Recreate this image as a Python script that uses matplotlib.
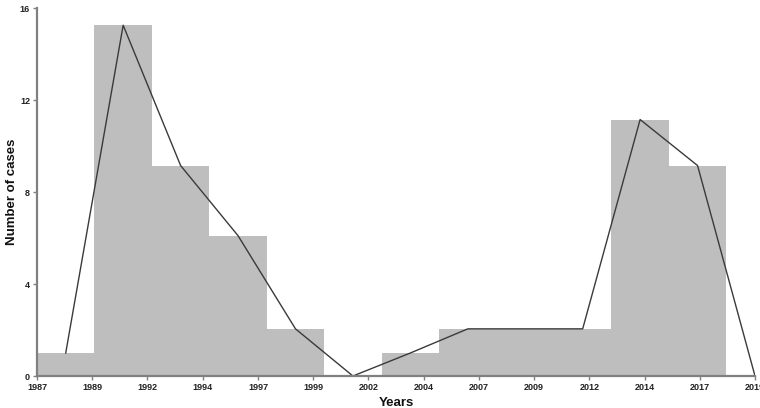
import matplotlib
matplotlib.use("Agg")
import matplotlib.pyplot as plt

# Histogram bin edges (years) and counts per bin
bin_edges = [1987.00, 1989.56, 1992.12, 1994.68, 1997.24, 1999.80, 2002.36,
             2004.92, 2007.48, 2010.04, 2012.60, 2015.16, 2017.72]
counts = [1, 15.25, 9.15, 6.1, 2.05, 0, 1, 2.05, 2.05, 2.05, 11.15, 9.15]

# Frequency polygon (bin midpoints, values)
poly_years = [1988.28, 1990.84, 1993.40, 1995.96, 1998.52, 2001.08, 2003.64,
              2006.20, 2008.76, 2011.32, 2013.88, 2016.44, 2019.00]
poly_values = [1, 15.25, 9.15, 6.1, 2.05, 0, 1, 2.05, 2.05, 2.05, 11.15, 9.15, 0]

xtick_pos = [1987.00, 1989.46, 1991.92, 1994.38, 1996.85, 1999.31, 2001.77,
             2004.23, 2006.69, 2009.15, 2011.62, 2014.08, 2016.54, 2019.00]
xtick_labels = ["1987", "1989", "1992", "1994", "1997", "1999", "2002",
                "2004", "2007", "2009", "2012", "2014", "2017", "2019"]
ytick_pos = [0, 4, 8, 12, 16]

font = ["Liberation Sans Narrow", "Liberation Sans", "DejaVu Sans"]

fig = plt.figure(figsize=(7.6, 4.08), dpi=100)
ax = fig.add_axes([37 / 760, 32 / 408, (755 - 37) / 760, (376 - 8) / 408])

widths = [bin_edges[i + 1] - bin_edges[i] for i in range(len(bin_edges) - 1)]
ax.bar(bin_edges[:-1], counts, width=widths, align="edge",
       color="#bebebe", edgecolor="none", linewidth=0)
ax.plot(poly_years, poly_values, color="#3a3a3a", linewidth=1.0)

ax.set_xlim(1987, 2019)
ax.set_ylim(0, 16)
ax.set_xticks(xtick_pos)
ax.set_xticklabels(xtick_labels, family=font, fontsize=6.5, fontweight="bold",
                   color="#222222")
ax.set_yticks(ytick_pos)
ax.set_yticklabels([str(v) for v in ytick_pos], family=font, fontsize=6.5,
                   fontweight="bold", color="#222222")

for s in ["top", "right"]:
    ax.spines[s].set_visible(False)
for s in ["left", "bottom"]:
    ax.spines[s].set_color("#808080")
    ax.spines[s].set_linewidth(1.6)
ax.tick_params(axis="both", length=3, width=1, color="#808080", pad=2)

ax.set_xlabel("Years", family=font, fontsize=9.5, fontweight="bold",
              color="#111111", labelpad=4)
ax.set_ylabel("Number of cases", family=font, fontsize=9.5, fontweight="bold",
              color="#111111")
ax.yaxis.set_label_coords(-19 / 718, 0.5)

fig.savefig("out.png", dpi=100)
